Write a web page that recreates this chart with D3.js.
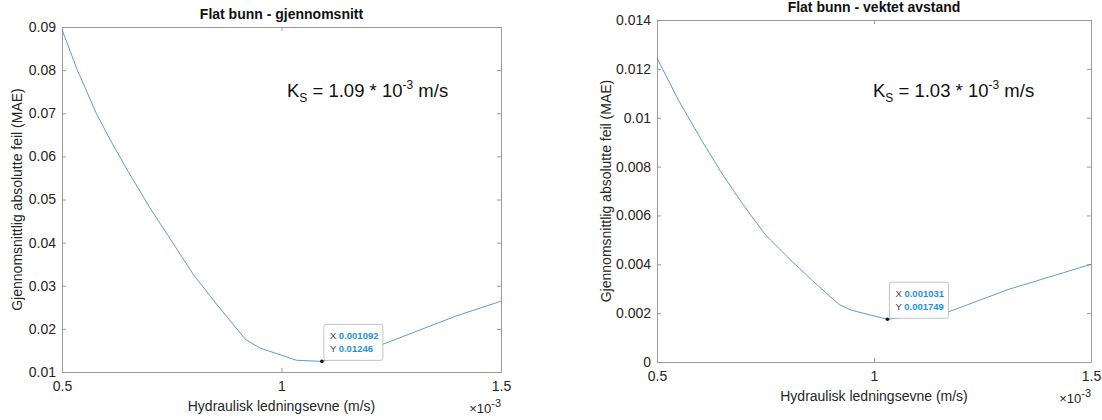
<!DOCTYPE html>
<html>
<head>
<meta charset="utf-8">
<script src="https://cdn.jsdelivr.net/npm/d3@7"></script>
<style>
  body { margin: 0; background: #fff; }
  svg { font-family: "Liberation Sans", Arial, sans-serif; }
  .axis text { font-size: 14px; fill: #262626; }
  .axis path, .axis line { stroke: #9a9a9a; }
</style>
</head>
<body>
<div id="chart-area"></div>
<script>
// values in units of 1e-3 m/s on x
const leftX = [0.5, 0.535, 0.578, 0.61, 0.65, 0.7, 0.75, 0.8, 0.85, 0.918, 0.95, 1.034, 1.092, 1.236, 1.398, 1.5]
const leftY = [0.0894, 0.080, 0.070, 0.0638, 0.0566, 0.0481, 0.0403, 0.0325, 0.026, 0.01755, 0.0156, 0.01272, 0.01246, 0.01662, 0.0230, 0.02642]
const leftTicksY = [0.01, 0.02, 0.03, 0.04, 0.05, 0.06, 0.07, 0.08, 0.09]

const rightX = [0.5, 0.55, 0.604, 0.65, 0.7, 0.75, 0.807, 0.86, 0.92, 0.948, 1.031, 1.176, 1.309, 1.5]
const rightY = [0.01244, 0.0107, 0.00904, 0.00771, 0.0064, 0.0052, 0.00419, 0.0033, 0.00235, 0.00212, 0.001749, 0.00208, 0.002966, 0.0040]
const rightTicksY = [0, 0.002, 0.004, 0.006, 0.008, 0.01, 0.012, 0.014]

const ticksX = [0.5, 1, 1.5]

const svg = d3.select("#chart-area").append("svg")
  .attr("width", 1102)
  .attr("height", 420)

function drawPanel(p) {
  const x = d3.scaleLinear().domain([0.5, 1.5]).range([p.left, p.right])
  const y = d3.scaleLinear().domain(p.yDomain).range([p.bottom, p.top])

  const g = svg.append("g")

  g.append("g").attr("class", "axis")
    .attr("transform", `translate(0,${p.bottom})`)
    .call(d3.axisBottom(x).tickValues(ticksX).tickSize(-4).tickSizeOuter(0).tickPadding(9).tickFormat(d3.format("")))
  g.append("g").attr("class", "axis")
    .attr("transform", `translate(0,${p.top})`)
    .call(d3.axisTop(x).tickValues(ticksX).tickSize(-4).tickSizeOuter(0).tickFormat(""))
  g.append("g").attr("class", "axis")
    .attr("transform", `translate(${p.left},0)`)
    .call(d3.axisLeft(y).tickValues(p.yTicks).tickSize(-4).tickSizeOuter(0).tickPadding(6).tickFormat(d3.format("")))
  g.append("g").attr("class", "axis")
    .attr("transform", `translate(${p.right},0)`)
    .call(d3.axisRight(y).tickValues(p.yTicks).tickSize(-4).tickSizeOuter(0).tickFormat(""))

  const pts = p.xs.map((v, i) => [v, p.ys[i]])
  g.append("path")
    .datum(pts)
    .attr("fill", "none")
    .attr("stroke", "#4a92c4")
    .attr("stroke-width", 0.9)
    .attr("d", d3.line().x(d => x(d[0])).y(d => y(d[1])))

  const cx = (p.left + p.right) / 2
  g.append("text")
    .attr("x", cx).attr("y", p.top - 8)
    .attr("text-anchor", "middle")
    .attr("font-weight", "bold")
    .attr("font-size", 14)
    .attr("fill", "#111")
    .text(p.title)

  g.append("text")
    .attr("x", cx).attr("y", p.bottom + 39)
    .attr("text-anchor", "middle")
    .attr("font-size", 14)
    .attr("fill", "#262626")
    .text("Hydraulisk ledningsevne (m/s)")

  g.append("text")
    .attr("transform", `translate(${p.left - p.ylabOff},${(p.top + p.bottom) / 2}) rotate(-90)`)
    .attr("text-anchor", "middle")
    .attr("font-size", 14)
    .attr("fill", "#262626")
    .text("Gjennomsnittlig absolutte feil (MAE)")

  const ex = g.append("text")
    .attr("x", p.right).attr("y", p.bottom + 41)
    .attr("text-anchor", "end")
    .attr("font-size", 13)
    .attr("fill", "#262626")
  ex.append("tspan").text("\u00d710")
  ex.append("tspan").attr("dy", -6).attr("font-size", 11).text("-3")

  const k = g.append("text")
    .attr("x", p.kx).attr("y", p.top + p.ky)
    .attr("font-size", 18.5)
    .attr("fill", "#111")
  k.append("tspan").text("K")
  k.append("tspan").attr("dy", 5).attr("font-size", 12).text("S")
  k.append("tspan").attr("dy", -5).text(` = ${p.ks} * 10`)
  k.append("tspan").attr("dy", -8).attr("font-size", 12).text("-3")
  k.append("tspan").attr("dy", 8).text(" m/s")

  // data tip
  const mx = x(p.tip[0]), my = y(p.tip[1])
  const tip = g.append("g").attr("transform", `translate(${mx + 2},${my - 37})`)
  tip.append("rect")
    .attr("width", 59).attr("height", 36).attr("rx", 2)
    .attr("fill", "#fff").attr("stroke", "#b5b5b5").attr("stroke-width", 0.8)
  const rows = [["X", p.tipLabels[0]], ["Y", p.tipLabels[1]]]
  rows.forEach((r, i) => {
    const t = tip.append("text")
      .attr("x", 6).attr("y", 15 + i * 12.5)
      .attr("font-size", 9.5)
    t.append("tspan").attr("fill", "#444").text(r[0] + " ")
    t.append("tspan").attr("fill", "#1c93d8").attr("font-weight", "bold").text(r[1])
  })
  g.append("circle").attr("cx", mx).attr("cy", my).attr("r", 1.8).attr("fill", "#111")
}

drawPanel({
  left: 62, right: 501, top: 27, bottom: 372,
  yDomain: [0.01, 0.09], yTicks: leftTicksY,
  xs: leftX, ys: leftY,
  title: "Flat bunn - gjennomsnitt",
  ks: "1.09", kx: 287, ky: 70, ylabOff: 40,
  tip: [1.092, 0.01246], tipLabels: ["0.001092", "0.01246"]
})

drawPanel({
  left: 657, right: 1091, top: 20, bottom: 362,
  yDomain: [0, 0.014], yTicks: rightTicksY,
  xs: rightX, ys: rightY,
  title: "Flat bunn - vektet avstand",
  ks: "1.03", kx: 873, ky: 77, ylabOff: 46,
  tip: [1.031, 0.001749], tipLabels: ["0.001031", "0.001749"]
})
</script>
</body>
</html>
